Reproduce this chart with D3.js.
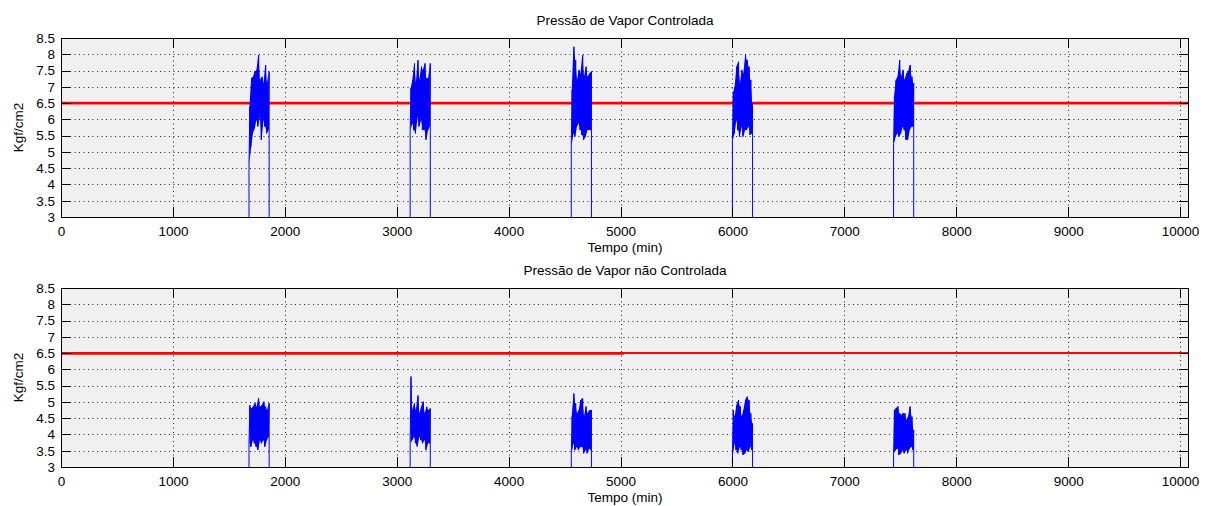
<!DOCTYPE html>
<html>
<head>
<meta charset="utf-8">
<script src="https://cdn.jsdelivr.net/npm/d3@7"></script>
<style>
	body { margin: 0; background: #fff; }
	svg text { font-family: "Liberation Sans", Arial, sans-serif; font-size: 13.5px; fill: #000; }
</style>
</head>
<body>
<div id="chart"></div>
<script>
// time axis (min) and tick labels
var xMax = 10080;
var xTickValues = [0, 1000, 2000, 3000, 4000, 5000, 6000, 7000, 8000, 9000, 10000];
var yTickValues = [3, 3.5, 4, 4.5, 5, 5.5, 6, 6.5, 7, 7.5, 8, 8.5];

// start / end of each burst of vapour demand (min)
var burstStart = [1680, 3120, 4560, 6000, 7440];
var burstEnd = [1860, 3300, 4740, 6180, 7620];
// level of the signal when there is no burst (below the visible range)
var offLevel = 0;

// setpoint (Kgf/cm2)
var setpointX = [0, 10080];
var setpointY = [6.5, 6.5];
// second, overlapping reference trace on the lower panel
var refX = [0, 5030];
var refY = [6.48, 6.48];

// controlled pressure: upper / lower peaks read across each burst
var topHi = [
	[6.4, 7.26, 7.31, 7.47, 7.52, 7.98, 7.21, 7.31, 7.11, 7.67, 7.11, 7.47],
	[6.95, 7.21, 7.72, 7.11, 7.82, 7.21, 7.62, 7.52, 7.72, 7.26, 7.26, 7.72],
	[6.9, 8.23, 7.82, 7.21, 7.52, 7.41, 7.98, 7.31, 7.62, 7.31, 7.41, 7.47],
	[6.8, 7.0, 7.62, 7.77, 7.11, 7.52, 7.41, 7.98, 7.82, 7.62, 7.21, 6.49],
	[6.7, 7.21, 7.31, 7.82, 7.31, 7.52, 7.21, 7.41, 7.47, 7.67, 7.31, 7.11]
];
var topLo = [
	[4.65, 5.16, 5.57, 5.72, 5.98, 5.78, 6.08, 5.37, 5.98, 5.78, 5.57, 5.67],
	[5.67, 5.88, 5.67, 5.57, 6.08, 5.78, 5.98, 5.67, 5.67, 5.37, 5.67, 5.78],
	[5.21, 5.57, 5.47, 5.78, 5.88, 5.67, 5.52, 5.37, 5.47, 5.67, 5.67, 5.67],
	[5.37, 5.57, 5.98, 5.67, 5.47, 5.78, 5.47, 5.67, 5.67, 5.78, 5.52, 5.57],
	[5.26, 5.47, 5.57, 5.47, 5.57, 5.78, 5.67, 5.37, 5.37, 5.67, 5.78, 5.78]
];

// uncontrolled pressure
var botHi = [
	[4.9, 4.8, 4.85, 4.96, 4.85, 5.11, 4.85, 4.9, 5.01, 4.85, 4.75, 4.96],
	[5.78, 4.75, 4.96, 4.75, 5.2, 4.65, 4.85, 5.01, 4.65, 4.85, 4.75, 4.8],
	[4.55, 5.26, 4.96, 4.65, 4.75, 5.06, 5.11, 4.55, 4.86, 4.65, 4.75, 4.75],
	[4.75, 4.55, 4.9, 5.06, 4.86, 4.55, 4.75, 5.06, 5.16, 5.06, 4.65, 4.34],
	[4.75, 4.8, 4.86, 4.65, 4.6, 4.65, 4.65, 4.45, 4.55, 4.86, 4.55, 4.14]
];
var botLo = [
	[3.73, 3.62, 3.83, 3.73, 3.62, 3.52, 3.83, 3.73, 3.83, 3.62, 3.83, 3.93],
	[3.73, 3.83, 3.93, 3.73, 3.63, 3.93, 3.83, 3.73, 3.83, 3.52, 3.73, 3.73],
	[3.42, 3.73, 3.52, 3.62, 3.52, 3.62, 3.62, 3.42, 3.52, 3.42, 3.57, 3.52],
	[3.37, 3.73, 3.52, 3.42, 3.62, 3.52, 3.37, 3.42, 3.52, 3.47, 3.62, 3.52],
	[3.42, 3.52, 3.57, 3.37, 3.42, 3.52, 3.42, 3.52, 3.42, 3.57, 3.62, 3.52]
];

var W = 1208, H = 506;
var left = 61, right = 1189, plotH = 179;

var svg = d3.select("#chart").append("svg")
	.attr("width", W)
	.attr("height", H);

var x = d3.scaleLinear().domain([0, xMax]).range([0, right - left]);

// turn the peak arrays into one oscillating trace
function buildSignal(hi, lo) {
	var pts = [[0, offLevel]];
	burstStart.forEach(function(s, b) {
		var e = burstEnd[b], n = hi[b].length;
		var step = (e - s) / (2 * n - 1);
		pts.push([s, offLevel]);
		for (var k = 0; k < n; k++) {
			pts.push([s + 2 * k * step, lo[b][k]]);
			pts.push([s + (2 * k + 1) * step, hi[b][k]]);
		}
		pts.push([e, offLevel]);
	});
	pts.push([xMax, offLevel]);
	return pts;
}

// band between lower and upper peaks for each burst (the dense part)
function buildBands(hi, lo) {
	return burstStart.map(function(s, b) {
		var e = burstEnd[b], n = hi[b].length;
		var step = (e - s) / (2 * n - 1);
		return hi[b].map(function(h, k) {
			return { t: s + (2 * k + 0.5) * step, hi: h, lo: lo[b][k] };
		});
	});
}

function drawPanel(top, id, title, hi, lo, extraRef) {
	var y = d3.scaleLinear().domain([3, 8.5]).range([plotH, 0]);
	var w = right - left;

	var g = svg.append("g")
		.attr("transform", "translate(" + left + "," + top + ")");

	g.append("clipPath").attr("id", id)
		.append("rect").attr("width", w).attr("height", plotH);

	// background
	g.append("rect")
		.attr("width", w)
		.attr("height", plotH)
		.attr("fill", "#f0f0f0");

	// dotted grid
	g.selectAll(".gx")
		.data(xTickValues.filter(function(d) { return d > 0; }))
		.enter().append("line")
		.attr("x1", function(d) { return Math.round(x(d)) + 0.5; })
		.attr("x2", function(d) { return Math.round(x(d)) + 0.5; })
		.attr("y1", 0).attr("y2", plotH)
		.attr("stroke", "#222")
		.attr("stroke-dasharray", "1,3.5");
	g.selectAll(".gy")
		.data(yTickValues.filter(function(d) { return d > 3 && d < 8.5; }))
		.enter().append("line")
		.attr("y1", function(d) { return Math.round(y(d)) + 0.5; })
		.attr("y2", function(d) { return Math.round(y(d)) + 0.5; })
		.attr("x1", 0).attr("x2", w)
		.attr("stroke", "#222")
		.attr("stroke-dasharray", "1,3.5");

	var line = d3.line()
		.x(function(d) { return x(d[0]); })
		.y(function(d) { return y(d[1]); });

	var plot = g.append("g").attr("clip-path", "url(#" + id + ")");

	// setpoint
	plot.append("path")
		.datum(setpointX.map(function(d, i) { return [d, setpointY[i]]; }))
		.attr("d", line)
		.attr("fill", "none")
		.attr("stroke", "#ff0000")
		.attr("stroke-width", extraRef ? 2 : 2.6);
	if (extraRef) {
		plot.append("path")
			.datum(refX.map(function(d, i) { return [d, refY[i]]; }))
			.attr("d", line)
			.attr("fill", "none")
			.attr("stroke", "#ff0000")
			.attr("stroke-width", 2.2);
	}

	// filled band of each burst
	var band = d3.area()
		.x(function(d) { return x(d.t); })
		.y0(function(d) { return y(d.lo); })
		.y1(function(d) { return y(d.hi); });
	plot.selectAll(".band")
		.data(buildBands(hi, lo))
		.enter().append("path")
		.attr("d", band)
		.attr("fill", "#0000ff");

	// pressure trace
	plot.append("path")
		.datum(buildSignal(hi, lo))
		.attr("d", line)
		.attr("fill", "none")
		.attr("stroke", "#0000ff")
		.attr("stroke-width", 1);

	// axes with inward ticks on all four sides
	var fmt = function(d) { return String(d); };
	var ax = g.append("g")
		.attr("transform", "translate(0," + plotH + ")")
		.call(d3.axisBottom(x).tickValues(xTickValues).tickSize(-10).tickSizeOuter(0).tickPadding(9).tickFormat(fmt));
	var ay = g.append("g")
		.call(d3.axisLeft(y).tickValues(yTickValues).tickSize(-10).tickSizeOuter(0).tickPadding(6).tickFormat(fmt));
	var at = g.append("g")
		.call(d3.axisTop(x).tickValues(xTickValues).tickSize(-10).tickSizeOuter(0).tickFormat(""));
	var ar = g.append("g")
		.attr("transform", "translate(" + w + ",0)")
		.call(d3.axisRight(y).tickValues(yTickValues).tickSize(-10).tickSizeOuter(0).tickFormat(""));
	[ax, ay, at, ar].forEach(function(a) {
		a.select(".domain").remove();
		a.selectAll("line").attr("stroke", "#000").attr("shape-rendering", "crispEdges");
		a.selectAll("text").attr("fill", "#000")
			.style("font-family", "'Liberation Sans', Arial, sans-serif")
			.style("font-size", "13.5px");
	});

	// box
	g.append("rect")
		.attr("x", 0.5).attr("y", 0.5)
		.attr("width", w - 1).attr("height", plotH)
		.attr("fill", "none")
		.attr("stroke", "#000")
		.attr("shape-rendering", "crispEdges");

	// labels
	g.append("text")
		.attr("x", w / 2).attr("y", -13)
		.attr("text-anchor", "middle")
		.text(title);
	g.append("text")
		.attr("x", w / 2).attr("y", plotH + 35)
		.attr("text-anchor", "middle")
		.text("Tempo (min)");
	g.append("text")
		.attr("transform", "translate(" + (23 - left) + "," + (plotH / 2) + ") rotate(-90)")
		.attr("text-anchor", "middle")
		.text("Kgf/cm2");
}

drawPanel(38, "clipTop", "Pressão de Vapor Controlada", topHi, topLo, false);
drawPanel(288, "clipBot", "Pressão de Vapor não Controlada", botHi, botLo, true);
</script>
</body>
</html>
